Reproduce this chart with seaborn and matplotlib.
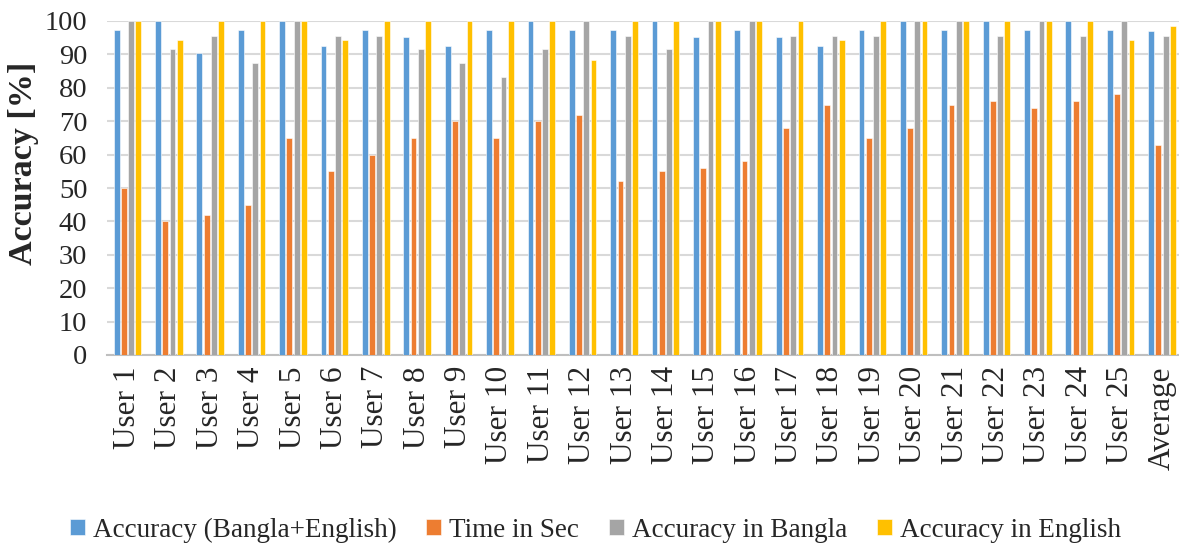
import numpy as np
import pandas as pd
import matplotlib
matplotlib.use("Agg")
import matplotlib.pyplot as plt
import seaborn as sns

categories = [f"User {i}" for i in range(1, 26)] + ["Average"]

acc_both = [97.4, 100, 90.5, 97.4, 100, 92.6, 97.4, 95.2, 92.6, 97.4,
            100, 97.4, 97.4, 100, 95.2, 97.4, 95.2, 92.6, 97.4, 100,
            97.4, 100, 97.4, 100, 97.4, 96.9]
time_sec = [50, 40, 42, 45, 65, 55, 60, 65, 70, 65,
            70, 72, 52, 55, 56, 58, 68, 75, 65, 68,
            75, 76, 74, 76, 78, 63]
acc_bangla = [100, 91.7, 95.6, 87.5, 100, 95.6, 95.6, 91.7, 87.5, 83.3,
              91.7, 100, 95.6, 91.7, 100, 100, 95.6, 95.6, 95.6, 100,
              100, 95.6, 100, 95.6, 100, 95.6]
acc_english = [100, 94.4, 100, 100, 100, 94.4, 100, 100, 100, 100,
               100, 88.3, 100, 100, 100, 100, 100, 94.4, 100, 100,
               100, 100, 100, 100, 94.4, 98.6]

series_names = ["Accuracy (Bangla+English)", "Time in Sec",
                "Accuracy in Bangla", "Accuracy in English"]
series_values = [acc_both, time_sec, acc_bangla, acc_english]
colors = ["#5B9BD5", "#ED7D31", "#A5A5A5", "#FFC000"]

df = pd.DataFrame({
    "User": np.tile(categories, len(series_names)),
    "Series": np.repeat(series_names, len(categories)),
    "Value": np.concatenate(series_values),
})

sns.set_theme(style="white")
plt.rcParams["font.family"] = ["Liberation Serif", "DejaVu Serif"]

fig = plt.figure(figsize=(11.79, 5.5), dpi=100)
ax = fig.add_axes([106.8 / 1179, 1 - 355 / 550, 1075.9 / 1179, 334 / 550])

sns.barplot(data=df, x="User", y="Value", hue="Series",
            order=categories, hue_order=series_names, palette=colors,
            width=0.7, gap=0.2, saturation=1, edgecolor="white",
            linewidth=0.4, ax=ax, zorder=3)

ax.set_ylim(0, 100)
ax.set_xlim(-0.5, len(categories) - 0.5)
ax.set_yticks(range(0, 101, 10))
ax.yaxis.grid(True, color="#D9D9D9", linewidth=1.5, zorder=0)
ax.set_axisbelow(True)
for side in ["left", "right", "top"]:
    ax.spines[side].set_visible(False)
ax.spines["bottom"].set_color("#BFBFBF")
ax.spines["bottom"].set_linewidth(1.5)
ax.tick_params(axis="both", length=0)
ax.tick_params(axis="y", labelsize=20.5, pad=14)
ax.tick_params(axis="x", labelsize=22.5, pad=8)
plt.setp(ax.get_xticklabels(), rotation=90)

ax.set_xlabel("")
ax.set_ylabel("Accuracy [%]", fontsize=24.5, fontweight="bold")
ax.yaxis.set_label_coords(-0.063, 0.575)

handles, labels = ax.get_legend_handles_labels()
ax.get_legend().remove()
fig.legend(handles, labels, loc="center", bbox_to_anchor=(0.505, 0.036),
           ncol=4, frameon=False, fontsize=19.5, handlelength=0.55,
           handleheight=0.55, handletextpad=0.3, columnspacing=1.1,
           borderaxespad=0)

fig.savefig("out.png", dpi=100)
